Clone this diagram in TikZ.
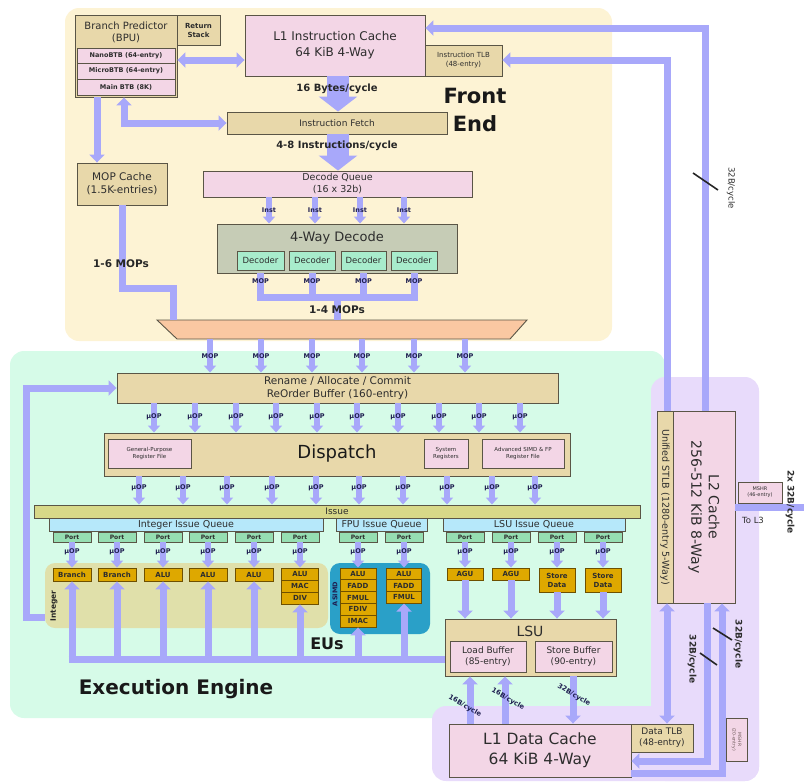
\documentclass[tikz,border=0pt]{standalone}
\usepackage{fontspec}
\setmainfont{DejaVu Sans}
\usetikzlibrary{arrows.meta,fit,calc}
\newcommand\fsz[2]{\fontsize{#1}{#2}\selectfont}
\newcommand\bx[5]{\node[#1, fit={#4}] (#3) {};
  \node[align=center, inner sep=0pt, text=txtc, font=#2] at (#3.center) {#5};}
\definecolor{creamc}{RGB}{253,243,212}
\definecolor{mintc}{RGB}{214,251,232}
\definecolor{lavc}{RGB}{232,219,251}
\definecolor{busc}{RGB}{168,168,250}
\definecolor{tanc}{RGB}{232,216,170}
\definecolor{pinkc}{RGB}{243,214,230}
\definecolor{bc}{RGB}{90,85,70}
\definecolor{txtc}{RGB}{45,45,45}
\definecolor{decg}{RGB}{198,204,182}
\definecolor{decm}{RGB}{168,236,204}
\definecolor{muxc}{RGB}{250,200,162}
\definecolor{issuec}{RGB}{216,216,136}
\definecolor{iqc}{RGB}{182,232,250}
\definecolor{portc}{RGB}{150,222,178}
\definecolor{euc}{RGB}{222,168,0}
\definecolor{eub}{RGB}{110,80,0}
\definecolor{intregc}{RGB}{224,224,170}
\definecolor{asimdc}{RGB}{42,160,200}
\definecolor{lblc}{RGB}{30,30,80}
\definecolor{smallc}{RGB}{110,90,90}
\begin{document}
\begin{tikzpicture}[x=1pt,y=-1pt,
  box/.style={draw=bc, line width=0.9pt, inner sep=0pt},
  tanbox/.style={box, fill=tanc},
  pinkbox/.style={box, fill=pinkc},
  eu/.style={box, fill=euc, draw=eub, align=center, text=txtc, font=\bfseries\fsz{7}{8.5}},
  bus/.style={draw=busc, line width=7pt},
  arr/.style={bus, -{Triangle[width=15pt,length=8pt]}},
  darr/.style={bus, {Triangle[width=15pt,length=8pt]}-{Triangle[width=15pt,length=8pt]}},
  sarr/.style={draw=busc, line width=6pt, -{Triangle[width=12pt,length=7pt]}},
  lbl/.style={font=\bfseries\fsz{6.5}{7}, text=lblc, inner sep=0pt},
  fat/.style={draw=busc, line width=22pt, -{Triangle[width=38pt,length=15pt]}},
  rate/.style={font=\bfseries\fsz{6.8}{8}, text=lblc, inner sep=0pt, rotate=-30},
  vlab/.style={rotate=-90, inner sep=0pt, text=txtc},
]
\useasboundingbox (0,0) rectangle (804,782);
% ---------- background regions
\fill[creamc, rounded corners=14pt] (65,8) rectangle (612,341);
\fill[mintc, rounded corners=14pt] (10,351) rectangle (665,718);
\fill[lavc, rounded corners=14pt] (651,377) rectangle (759,781);
\fill[lavc, rounded corners=14pt] (432,706) rectangle (759,781);
\node[fill=intregc, rounded corners=10pt, inner sep=0pt, fit={(45,563)(328,628)}] (intr) {};
\node[fill=asimdc, rounded corners=10pt, inner sep=0pt, fit={(330,563)(430,634)}] (asimd) {};

% ---------- front end boxes
\node[tanbox, fit={(75,15)(177,97)}] (bpu) {};
\node[font=\fsz{10}{12.5}, align=center, anchor=north, text=txtc] at (126,18) {Branch Predictor\\(BPU)};
\bx{pinkbox}{\bfseries\fsz{6.5}{7}}{nano}{(77,48)(175,63)}{NanoBTB (64-entry)}
\bx{pinkbox}{\bfseries\fsz{6.5}{7}}{micro}{(77,63)(175,79)}{MicroBTB (64-entry)}
\bx{pinkbox}{\bfseries\fsz{6.5}{7}}{mainbtb}{(77,79)(175,95)}{Main BTB (8K)}
\bx{tanbox}{\bfseries\fsz{7}{9}}{rs}{(177,15)(220,45)}{Return\\Stack}
\bx{pinkbox}{\fsz{12}{16}}{l1i}{(245,15)(425,76)}{L1 Instruction Cache\\64 KiB 4-Way}
\bx{tanbox}{\fsz{7}{9}}{itlb}{(425,45)(502,76)}{Instruction TLB\\(48-entry)}
\bx{tanbox}{\fsz{9}{10}}{ifetch}{(227,112)(447,134)}{Instruction Fetch}
\bx{tanbox}{\fsz{10.5}{13}}{mopc}{(77,163)(167,205)}{MOP Cache\\(1.5K-entries)}
\bx{pinkbox}{\fsz{9.5}{12}}{dq}{(203,171)(472,197)}{Decode Queue\\(16 x 32b)}
\node[box, fill=decg, fit={(217,224)(457,273)}] (dec) {};
\node[font=\fsz{13}{15}, text=txtc] at (337,238) {4-Way Decode};
\bx{box, fill=decm}{\fsz{8.5}{10}}{d1}{(237,251)(284,270)}{Decoder}
\bx{box, fill=decm}{\fsz{8.5}{10}}{d2}{(289,251)(335,270)}{Decoder}
\bx{box, fill=decm}{\fsz{8.5}{10}}{d3}{(341,251)(386,270)}{Decoder}
\bx{box, fill=decm}{\fsz{8.5}{10}}{d4}{(391,251)(437,270)}{Decoder}
\filldraw[fill=muxc, draw=bc, line width=0.9pt] (157,320) -- (527,320) -- (510,339) -- (177,339) -- cycle;
\node[inner sep=0pt, fit={(157,320)(527,339)}] (mux) {};

% front end connectors
\coordinate (fx) at (338,0);
\draw[fat] (fx |- l1i.south) -- (fx |- ifetch.north);
\node[font=\bfseries\fsz{10}{12}, text=black!85] at (337,89) {16 Bytes/cycle};
\draw[fat] (fx |- ifetch.south) -- (fx |- dq.north);
\node[font=\bfseries\fsz{10}{12}, text=black!85] at (337,146) {4-8 Instructions/cycle};
\node[font=\bfseries\fsz{21}{28}, align=center, text=black!90] at (475,110) {Front\\End};
\coordinate (y60) at (0,60);
\draw[darr] (bpu.east |- y60) -- (l1i.west |- y60);
\coordinate (b1) at (124,0);
\draw[darr] (b1 |- bpu.south) |- (ifetch.west);
\coordinate (b2) at (97,0);
\draw[arr] (b2 |- bpu.south) -- (b2 |- mopc.north);
\coordinate (m6) at (173,0);
\draw[bus] (mopc.south) -- (122,288) -- (173,288) -- (m6 |- mux.north);
\node[font=\bfseries\fsz{10.5}{12}, text=black!85] at (121,264) {1-6 MOPs};
\foreach \x in {269,315,360,404} {
  \coordinate (t) at (\x,0);
  \draw[sarr] (t |- dq.south) -- node[lbl]{Inst} (t |- dec.north);
}
\coordinate (y297) at (0,297);
\draw[bus] (d1 |- dec.south) -- (d1 |- y297) -- (d4 |- y297) -- (d4 |- dec.south);
\draw[bus] (d2 |- dec.south) -- (d2 |- y297);
\draw[bus] (d3 |- dec.south) -- (d3 |- y297);
\foreach \n in {d1,d2,d3,d4} { \node[lbl] at ($(\n |- dec.south)+(0,8)$) {MOP}; }
\coordinate (cx) at (337,0);
\draw[bus] (cx |- y297) -- (cx |- mux.north);
\node[font=\bfseries\fsz{10.5}{12}, text=black!85] at (337,310) {1-4 MOPs};

% ---------- execution engine
\bx{tanbox}{\fsz{10.5}{13}}{ren}{(117,373)(558,403)}{Rename / Allocate / Commit\\ReOrder Buffer (160-entry)}
\foreach \x in {210,261,312,362,414,465} {
  \coordinate (t) at (\x,0);
  \draw[sarr] (t |- mux.south) -- node[lbl]{MOP} (t |- ren.north);
}
\node[tanbox, fit={(104,433)(570,476)}] (disp) {};
\node[font=\fsz{18}{20}, text=black!90] at (337,454) {Dispatch};
\bx{pinkbox}{\color{smallc}\fsz{5.5}{7}}{gpr}{(108,439)(191,468)}{General-Purpose\\Register File}
\bx{pinkbox}{\color{smallc}\fsz{5.5}{7}}{sysr}{(424,439)(468,468)}{System\\Registers}
\bx{pinkbox}{\color{smallc}\fsz{5.5}{7}}{simdr}{(482,439)(564,468)}{Advanced SIMD \& FP\\Register File}
\foreach \x in {154,195,236,276,317,357,398,439,479,520} {
  \coordinate (t) at (\x,0);
  \draw[sarr] (t |- ren.south) -- node[lbl, pos=0.45]{µOP} (t |- disp.north);
}
\bx{box, fill=issuec}{\fsz{9}{10}}{iss}{(34,505)(640,518)}{Issue}
\foreach \x in {139,183,227,272,316,359,403,447,492,535} {
  \coordinate (t) at (\x,0);
  \draw[sarr] (t |- disp.south) -- node[lbl, pos=0.4]{µOP} (t |- iss.north);
}
\bx{box, fill=iqc}{\fsz{9.5}{10}}{iiq}{(49,518)(323,531)}{Integer Issue Queue}
\bx{box, fill=iqc}{\fsz{9.5}{10}}{fiq}{(336,518)(427,531)}{FPU Issue Queue}
\bx{box, fill=iqc}{\fsz{9.5}{10}}{liq}{(443,518)(625,531)}{LSU Issue Queue}
\foreach \x [count=\i] in {72,117,163,208,254,300,358,404,465,511,557,603} {
  \node[eu, fill=portc, draw=bc, minimum width=38pt, minimum height=10pt, font=\bfseries\fsz{6}{7}] (p\i) at (\x,537) {Port};
}
% EUs
\node[eu, minimum width=38pt, minimum height=13pt] (e1) at (72,574.5) {Branch};
\node[eu, minimum width=38pt, minimum height=13pt] (e2) at (117,574.5) {Branch};
\node[eu, minimum width=38pt, minimum height=13pt] (e3) at (163,574.5) {ALU};
\node[eu, minimum width=38pt, minimum height=13pt] (e4) at (208,574.5) {ALU};
\node[eu, minimum width=38pt, minimum height=13pt] (e5) at (254,574.5) {ALU};
\node[eu, minimum width=37pt, minimum height=12pt] (e6a) at (300,574) {ALU};
\node[eu, minimum width=37pt, minimum height=12pt] (e6b) at (300,586) {MAC};
\node[eu, minimum width=37pt, minimum height=12pt] (e6c) at (300,598) {DIV};
\node[eu, minimum width=36pt, minimum height=11.8pt] (f1a) at (358,573.9) {ALU};
\node[eu, minimum width=36pt, minimum height=11.8pt] (f1b) at (358,585.7) {FADD};
\node[eu, minimum width=36pt, minimum height=11.8pt] (f1c) at (358,597.5) {FMUL};
\node[eu, minimum width=36pt, minimum height=11.8pt] (f1d) at (358,609.3) {FDIV};
\node[eu, minimum width=36pt, minimum height=11.8pt] (f1e) at (358,621.1) {IMAC};
\node[eu, minimum width=35pt, minimum height=11.7pt] (f2a) at (404,573.9) {ALU};
\node[eu, minimum width=35pt, minimum height=11.7pt] (f2b) at (404,585.6) {FADD};
\node[eu, minimum width=35pt, minimum height=11.7pt] (f2c) at (404,597.3) {FMUL};
\node[eu, minimum width=36pt, minimum height=12pt] (g1) at (465,574) {AGU};
\node[eu, minimum width=37pt, minimum height=12pt] (g2) at (511,574) {AGU};
\node[eu, minimum width=36pt, minimum height=24pt, font=\bfseries\fsz{7}{9}] (g3) at (557,580) {Store\\Data};
\node[eu, minimum width=36pt, minimum height=24pt, font=\bfseries\fsz{7}{9}] (g4) at (603,580) {Store\\Data};
\foreach \i in {1,...,12} {
  \draw[sarr] (p\i.south) -- node[lbl, pos=0.38]{µOP} (p\i |- e1.north);
}
\node[rotate=90, font=\bfseries\fsz{7.5}{8}, text=black!85] at (54,606) {Integer};
\node[rotate=90, font=\bfseries\fsz{6.5}{7}, text=lblc] at (335,594) {ASIMD};

% LSU
\node[tanbox, fit={(445,619)(616,676)}] (lsu) {};
\node[font=\fsz{14}{16}, text=txtc] at (530,631) {LSU};
\bx{pinkbox}{\fsz{9}{11.5}}{lbuf}{(450,641)(526,672)}{Load Buffer\\(85-entry)}
\bx{pinkbox}{\fsz{9}{11.5}}{sbuf}{(535,641)(612,672)}{Store Buffer\\(90-entry)}
\foreach \n in {g1,g2,g3,g4} { \draw[arr] (\n.south) -- (\n |- lsu.north); }
% result bus
\coordinate (busy) at (0,659);
\coordinate (busl) at (68.5,659);
\draw[bus] (busl) -- (lsu.west |- busy);
\foreach \n in {e1,e2,e3,e4,e5,e6c,f1e,f2c} { \draw[arr] (\n |- busy) -- (\n.south); }
\coordinate (fb) at (45,617);
\draw[arr] (fb) -- ++(-19,0) |- (ren.west);
\node[font=\bfseries\fsz{16}{18}, text=black!90] at (327,644) {EUs};
\node[font=\bfseries\fsz{20}{24}, text=black!90] at (176,689) {Execution Engine};

% ---------- memory
\bx{pinkbox}{\fsz{15.5}{20}}{l1d}{(449,724)(631,777)}{L1 Data Cache\\64 KiB 4-Way}
\bx{tanbox}{\fsz{9}{11}}{dtlb}{(631,724)(693,752)}{Data TLB\\(48-entry)}
\coordinate (x1) at (470,0);
\coordinate (x2) at (505,0);
\coordinate (x3) at (573,0);
\draw[arr] (x1 |- l1d.north) -- (x1 |- lsu.south);
\draw[arr] (x2 |- l1d.north) -- (x2 |- lsu.south);
\draw[arr] (x3 |- lsu.south) -- (x3 |- l1d.north);
\node[rate] at (465,706) {16B/cycle};
\node[rate] at (508,699) {16B/cycle};
\node[rate] at (574,695) {32B/cycle};
\node[pinkbox, fit={(726,718)(747,761)}] (mshr1) {};
\node[vlab, font=\fsz{4.5}{5.5}, align=center, text=smallc] at (mshr1) {MSHR\\(20-entry)};

\node[pinkbox, fit={(673,411)(735,603)}] (l2) {};
\node[vlab, font=\fsz{14}{17.5}, align=center] at (l2) {L2 Cache\\256-512 KiB 8-Way};
\node[tanbox, fit={(657,411)(673,603)}] (stlb) {};
\node[vlab, font=\fsz{9.5}{10}] at (stlb) {Unified STLB (1280-entry 5-Way)};
\bx{pinkbox}{\color{smallc}\fsz{5}{6}}{mshr2}{(738,482)(782,503)}{MSHR\\(46-entry)}
\coordinate (l3) at (804,507);
\draw[bus] (l2.east |- l3) -- (l3);
\node[font=\fsz{8.5}{10}, text=txtc] at (753,520) {To L3};
\node[vlab, font=\bfseries\fsz{9}{10}] at (790,502) {2x 32B/cycle};

% L2 to front end
\coordinate (la) at (705,0);
\coordinate (lb) at (667,0);
\coordinate (ya) at (0,28);
\draw[arr] (la |- l2.north) |- (l1i.east |- ya);
\draw[arr] (lb |- stlb.north) |- (itlb.east |- y60);
\node[vlab, font=\fsz{8.5}{10}] at (731,188) {32B/cycle};
\draw[line width=1.6pt, black!85] (693,173) -- (718,190);

% L2 to L1D
\coordinate (ld) at (707,0);
\coordinate (le) at (722,0);
\coordinate (yd) at (0,761);
\coordinate (ye) at (0,773);
\draw[darr] (lb |- stlb.south) -- (lb |- dtlb.north);
\draw[arr] (ld |- l2.south) |- (l1d.east |- yd);
\draw[arr] (l1d.east |- ye) -| (le |- l2.south);
\node[vlab, font=\bfseries\fsz{9}{10}] at (692,659) {32B/cycle};
\node[vlab, font=\bfseries\fsz{9}{10}] at (738,644) {32B/cycle};
\draw[line width=1.6pt, black!85] (700,653) -- (717,665);
\draw[line width=1.6pt, black!85] (713,628) -- (732,640);
\end{tikzpicture}
\end{document}
